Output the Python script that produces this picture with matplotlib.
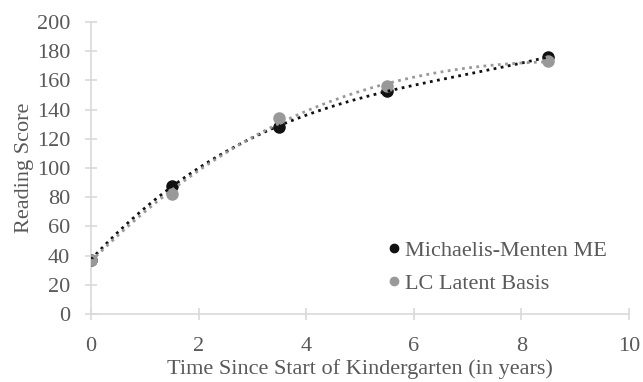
import numpy as np
import matplotlib
matplotlib.use("Agg")
from matplotlib import pyplot as plt

years = [0, 1.5, 3.5, 5.5, 8.5]
mm_me = [37, 88, 128, 153, 176]
lc_basis = [37, 82, 134, 156, 173]

names = ["Michaelis-Menten ME", "LC Latent Basis"]
colors = ["#111111", "#999999"]

serif = ["Liberation Serif", "DejaVu Serif"]
plt.rcParams["font.family"] = serif
text_col = "#595959"
axis_col = "#d9d9d9"
fs = 16

fig = plt.figure(figsize=(6.43, 3.82), dpi=100)
ax = fig.add_axes([91 / 643, 1 - 314 / 382, (629 - 91) / 643, (314 - 22) / 382])

xs = np.linspace(min(years), max(years), 200)
for series, name, col, z in [(mm_me, names[0], colors[0], 3), (lc_basis, names[1], colors[1], 4)]:
    ax.plot(years, series, "o", color=col, markersize=8, label=name, zorder=z)
    coef = np.polyfit(years, series, 3)
    ax.plot(xs, np.polyval(coef, xs), linestyle=(0, (1, 1.6)), color=col, linewidth=2, zorder=5)

ax.set_xlim(0, 10)
ax.set_ylim(0, 200)
ax.set_xticks(range(0, 11, 2))
ax.set_yticks(range(0, 201, 20))

for side in ["top", "right"]:
    ax.spines[side].set_visible(False)
for side in ["left", "bottom"]:
    ax.spines[side].set_color(axis_col)
    ax.spines[side].set_linewidth(1.2)
ax.tick_params(axis="both", direction="inout", length=9, width=1.2, color=axis_col,
               labelcolor=text_col, labelsize=fs)
ax.tick_params(axis="x", pad=12)
ax.tick_params(axis="y", pad=10.5)

ax.set_xlabel("Time Since Start of Kindergarten (in years)", color=text_col, fontsize=fs,
              labelpad=2.5)
ax.set_ylabel("Reading Score", color=text_col, fontsize=fs, labelpad=2)

leg = ax.legend(loc="lower right", bbox_to_anchor=(0.976, 0.038), borderaxespad=0,
                frameon=False, prop={"size": fs},
                handletextpad=0.0, markerscale=0.75, labelspacing=0.58, handlelength=1.0)
for t in leg.get_texts():
    t.set_color(text_col)

fig.savefig("out.png", dpi=100)
